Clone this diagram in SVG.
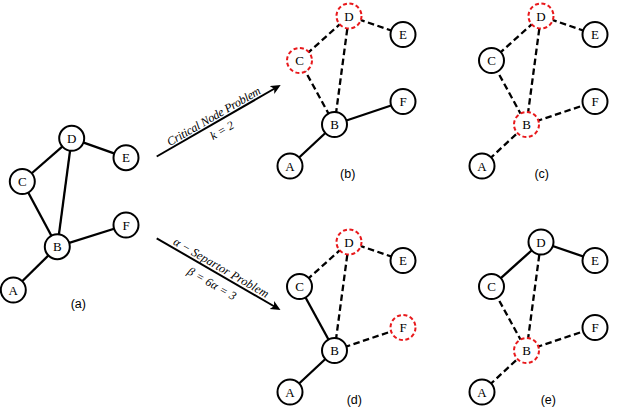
<svg xmlns="http://www.w3.org/2000/svg" width="640" height="411" viewBox="0 0 640 411">
<style>
.node circle{fill:#fff;stroke:#000;stroke-width:2}
.node.red circle{stroke:#e8191c;stroke-dasharray:4 2.55}
.node text{font-family:"Liberation Serif","DejaVu Serif",serif;font-size:13px;text-anchor:middle;fill:#000}
.e{stroke:#000;stroke-width:2.3;fill:none}
.d{stroke-dasharray:6.5 3.5}
.arr{stroke:#000;stroke-width:2;fill:none;marker-end:url(#ah)}
.cap{font-family:"Liberation Sans",Arial,sans-serif;font-size:12.5px;text-anchor:middle;fill:#000}
.lbl{font-family:"Liberation Serif","DejaVu Serif",serif;font-style:italic;font-size:12px;text-anchor:middle;fill:#000}
</style>
<defs>
<marker id="ah" markerUnits="userSpaceOnUse" markerWidth="12" markerHeight="10" refX="4" refY="4.5" orient="auto">
<path d="M0,0 L10,4.5 L0,9 L2.5,4.5 z" fill="#000"/>
</marker>
</defs>
<rect width="640" height="411" fill="#fff"/>
<g id="connectors">
<line class="e" x1="13.3" y1="290" x2="57.3" y2="246.7"/>
<line class="e" x1="57.3" y1="246.7" x2="126" y2="225"/>
<line class="e" x1="57.3" y1="246.7" x2="22.3" y2="181.5"/>
<line class="e" x1="57.3" y1="246.7" x2="71.7" y2="138.3"/>
<line class="e" x1="22.3" y1="181.5" x2="71.7" y2="138.3"/>
<line class="e" x1="71.7" y1="138.3" x2="126" y2="157.7"/>
<line class="e" x1="290" y1="166" x2="334.5" y2="124.5"/>
<line class="e" x1="334.5" y1="124.5" x2="403" y2="101.5"/>
<line class="e d" x1="334.5" y1="124.5" x2="299.5" y2="60.5"/>
<line class="e d" x1="334.5" y1="124.5" x2="349" y2="16"/>
<line class="e d" x1="299.5" y1="60.5" x2="349" y2="16"/>
<line class="e d" x1="349" y1="16" x2="403" y2="34.5"/>
<line class="e d" x1="482" y1="166" x2="526.5" y2="124.5"/>
<line class="e d" x1="526.5" y1="124.5" x2="595" y2="101.5"/>
<line class="e d" x1="526.5" y1="124.5" x2="491.5" y2="60.5"/>
<line class="e d" x1="526.5" y1="124.5" x2="541" y2="16"/>
<line class="e d" x1="491.5" y1="60.5" x2="541" y2="16"/>
<line class="e d" x1="541" y1="16" x2="595" y2="34.5"/>
<line class="e" x1="290" y1="392" x2="334.5" y2="350.5"/>
<line class="e d" x1="334.5" y1="350.5" x2="403" y2="327.5"/>
<line class="e" x1="334.5" y1="350.5" x2="299.5" y2="286.5"/>
<line class="e d" x1="334.5" y1="350.5" x2="349" y2="242"/>
<line class="e d" x1="299.5" y1="286.5" x2="349" y2="242"/>
<line class="e d" x1="349" y1="242" x2="403" y2="260.5"/>
<line class="e d" x1="482" y1="392" x2="526.5" y2="350.5"/>
<line class="e d" x1="526.5" y1="350.5" x2="595" y2="327.5"/>
<line class="e d" x1="526.5" y1="350.5" x2="491.5" y2="286.5"/>
<line class="e d" x1="526.5" y1="350.5" x2="541" y2="242"/>
<line class="e" x1="491.5" y1="286.5" x2="541" y2="242"/>
<line class="e" x1="541" y1="242" x2="595" y2="260.5"/>
<line class="arr" x1="156.7" y1="156.5" x2="275.5" y2="88"/>
<line class="arr" x1="156.7" y1="238.3" x2="275.3" y2="307"/>
<g transform="translate(218.7 120.8) rotate(-30)">
<text class="lbl" x="-2" y="-2.5" textLength="106" lengthAdjust="spacing">Critical Node Problem</text>
<text class="lbl" x="-2" y="14">k = 2</text>
</g>
<g transform="translate(218.6 274.2) rotate(30)">
<text class="lbl" x="-1" y="-3" textLength="108" lengthAdjust="spacing">α − Separtor Problem</text>
<text class="lbl" x="-1" y="15.5" textLength="54" lengthAdjust="spacing">β = 6α = 3</text>
</g>
</g>
<g id="a-D" class="node"><circle cx="71.7" cy="138.3" r="12.5"/><text x="71.7" y="142.8">D</text></g>
<g id="a-E" class="node"><circle cx="126" cy="157.7" r="12.5"/><text x="126" y="162.2">E</text></g>
<g id="a-C" class="node"><circle cx="22.3" cy="181.5" r="12.5"/><text x="22.3" y="186">C</text></g>
<g id="a-F" class="node"><circle cx="126" cy="225" r="12.5"/><text x="126" y="229.5">F</text></g>
<g id="a-B" class="node"><circle cx="57.3" cy="246.7" r="12.5"/><text x="57.3" y="251.2">B</text></g>
<g id="a-A" class="node"><circle cx="13.3" cy="290" r="12.5"/><text x="13.3" y="294.5">A</text></g>
<text class="cap" x="78.3" y="307.5">(a)</text>
<g id="b-D" class="node red"><circle cx="349" cy="16" r="12.5"/><text x="349" y="20.5">D</text></g>
<g id="b-E" class="node"><circle cx="403" cy="34.5" r="12.5"/><text x="403" y="39">E</text></g>
<g id="b-C" class="node red"><circle cx="299.5" cy="60.5" r="12.5"/><text x="299.5" y="65">C</text></g>
<g id="b-F" class="node"><circle cx="403" cy="101.5" r="12.5"/><text x="403" y="106">F</text></g>
<g id="b-B" class="node"><circle cx="334.5" cy="124.5" r="12.5"/><text x="334.5" y="129">B</text></g>
<g id="b-A" class="node"><circle cx="290" cy="166" r="12.5"/><text x="290" y="170.5">A</text></g>
<text class="cap" x="347.7" y="177.5">(b)</text>
<g id="c-D" class="node red"><circle cx="541" cy="16" r="12.5"/><text x="541" y="20.5">D</text></g>
<g id="c-E" class="node"><circle cx="595" cy="34.5" r="12.5"/><text x="595" y="39">E</text></g>
<g id="c-C" class="node"><circle cx="491.5" cy="60.5" r="12.5"/><text x="491.5" y="65">C</text></g>
<g id="c-F" class="node"><circle cx="595" cy="101.5" r="12.5"/><text x="595" y="106">F</text></g>
<g id="c-B" class="node red"><circle cx="526.5" cy="124.5" r="12.5"/><text x="526.5" y="129">B</text></g>
<g id="c-A" class="node"><circle cx="482" cy="166" r="12.5"/><text x="482" y="170.5">A</text></g>
<text class="cap" x="541.7" y="177.5">(c)</text>
<g id="d-D" class="node red"><circle cx="349" cy="242" r="12.5"/><text x="349" y="246.5">D</text></g>
<g id="d-E" class="node"><circle cx="403" cy="260.5" r="12.5"/><text x="403" y="265">E</text></g>
<g id="d-C" class="node"><circle cx="299.5" cy="286.5" r="12.5"/><text x="299.5" y="291">C</text></g>
<g id="d-F" class="node red"><circle cx="403" cy="327.5" r="12.5"/><text x="403" y="332">F</text></g>
<g id="d-B" class="node"><circle cx="334.5" cy="350.5" r="12.5"/><text x="334.5" y="355">B</text></g>
<g id="d-A" class="node"><circle cx="290" cy="392" r="12.5"/><text x="290" y="396.5">A</text></g>
<text class="cap" x="354.3" y="403.5">(d)</text>
<g id="e-D" class="node"><circle cx="541" cy="242" r="12.5"/><text x="541" y="246.5">D</text></g>
<g id="e-E" class="node"><circle cx="595" cy="260.5" r="12.5"/><text x="595" y="265">E</text></g>
<g id="e-C" class="node"><circle cx="491.5" cy="286.5" r="12.5"/><text x="491.5" y="291">C</text></g>
<g id="e-F" class="node"><circle cx="595" cy="327.5" r="12.5"/><text x="595" y="332">F</text></g>
<g id="e-B" class="node red"><circle cx="526.5" cy="350.5" r="12.5"/><text x="526.5" y="355">B</text></g>
<g id="e-A" class="node"><circle cx="482" cy="392" r="12.5"/><text x="482" y="396.5">A</text></g>
<text class="cap" x="548.3" y="403.5">(e)</text>
</svg>
